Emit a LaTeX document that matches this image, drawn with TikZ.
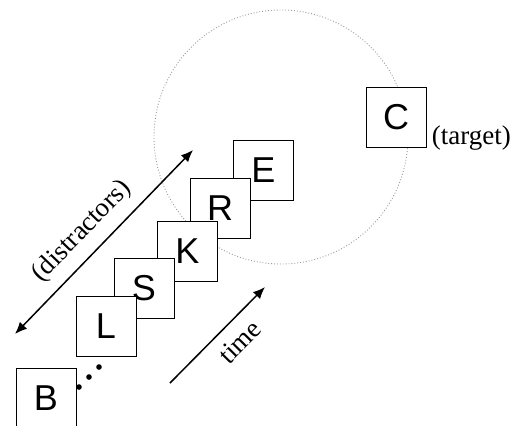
\documentclass[tikz,border=0pt]{standalone}
\usepackage{fontspec}
\setmainfont{Liberation Serif}
\setsansfont{Liberation Sans}
\usetikzlibrary{positioning, arrows.meta}

\tikzset{
  card/.style={draw, fill=white, minimum size=30pt, inner sep=0pt, line width=0.5pt,
               font=\sffamily\fontsize{18}{20}\selectfont},
  note/.style={inner sep=0pt, font=\fontsize{13.5}{15}\selectfont},
  dir/.style={line width=0.75pt},
}

\begin{document}
\begin{tikzpicture}[x=0.5pt, y=-0.5pt]

    \clip (0,0) rectangle (514,425);

    % Search area round the target
    \draw[gray!80, densely dotted, line width=0.45pt] (281,137) circle[radius=63.5pt];

    % Stream of letters, the earlier card lies on top
    \node[card] (E) at (263.5,170) {E};
    \node[card] (R) at (220,208)   {R};
    \node[card] (K) at (187.5,251) {K};
    \node[card] (S) at (144,288.5) {S};
    \node[card] (L) at (106,326)   {L};
    \node[card] (B) at (46,398)    {B};

    % Gap in the stream
    \foreach \x/\y in {79/387, 89/377, 99/367}
        \fill (\x,\y) circle[radius=1.4pt];

    % Target card
    \node[card] (C) at (396,117) {C};
    \node[note, anchor=base west] (tgt) at ([xshift=2.5pt, yshift=1.5pt]C.south east) {(target)};

    % Span of the distractors
    \coordinate (d1) at (15,334);
    \coordinate (d2) at (193,150);
    \draw[dir, {Latex[length=6pt,width=5pt]}-{Latex[length=6pt,width=5pt]}] (d1) -- (d2)
        node[note, sloped, above=5pt, pos=0.47] {(distractors)};

    % Direction of time
    \coordinate (t1) at (170,383);
    \coordinate (t2) at (265,287);
    \draw[dir, -{Latex[length=6pt,width=5pt]}] (t1) -- (t2)
        node[note, sloped, below=5.5pt, pos=0.58] {time};

\end{tikzpicture}
\end{document}
